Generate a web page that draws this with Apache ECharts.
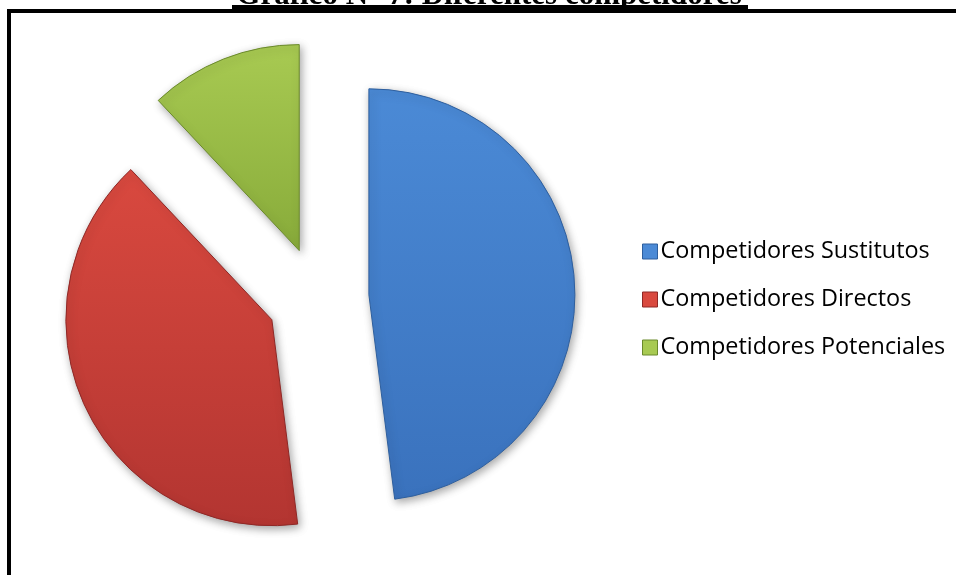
<!DOCTYPE html>
<html>
<head>
<meta charset="utf-8">
<script src="https://cdn.jsdelivr.net/npm/echarts@6/dist/echarts.min.js"></script>
<style>
  html, body { margin: 0; padding: 0; background: #ffffff; }
  #chart { width: 956px; height: 575px; }
</style>
</head>
<body>
<div id="chart"></div>
<script>
// Shares of competitor types (percent)
const categories = ['Competidores Sustitutos', 'Competidores Directos', 'Competidores Potenciales'];
const shares = [48, 40, 12];
const topColors = ['#4b8ad6', '#d9493f', '#a8ca52'];
const bottomColors = ['#3a72bd', '#b33531', '#88ab3a'];
const edgeColors = ['#2e5f9e', '#8f2826', '#6b8a2c'];
const titleText = 'Gráfico N° 7: Diferentes competidores';

const chart = echarts.init(document.getElementById('chart'), null, { renderer: 'canvas' });

const pieData = categories.map((name, i) => ({
  name: name,
  value: shares[i],
  selected: true,
  itemStyle: {
    color: {
      type: 'linear', x: 0, y: 0, x2: 0, y2: 1,
      colorStops: [
        { offset: 0, color: topColors[i] },
        { offset: 1, color: bottomColors[i] }
      ]
    },
    borderColor: edgeColors[i],
    borderWidth: 1
  }
}));

chart.setOption({
  backgroundColor: '#ffffff',
  animation: false,
  graphic: [
    // frame around the chart area
    {
      type: 'rect',
      shape: { x: 9, y: 11, width: 960, height: 580 },
      style: { fill: 'none', stroke: '#000000', lineWidth: 4 },
      z: 10
    },
    // underline of the heading
    {
      type: 'rect',
      shape: { x: 232, y: 5, width: 516, height: 4 },
      style: { fill: '#000000' },
      z: 12
    },
    {
      type: 'text',
      x: 489,
      y: 11,
      style: {
        text: titleText,
        fill: '#000000',
        font: 'bold 31px "Liberation Serif", "Times New Roman", serif',
        align: 'center',
        verticalAlign: 'bottom'
      },
      z: 11
    }
  ],
  legend: {
    orient: 'vertical',
    left: 637,
    top: 235,
    itemWidth: 15,
    itemHeight: 15,
    itemGap: 25,
    icon: 'rect',
    selectedMode: false,
    textStyle: {
      fontFamily: '"Open Sans", Lato, sans-serif',
      fontSize: 23.4,
      lineHeight: 22,
      color: '#000000',
      padding: [0, 0, 0, -2]
    },
    data: categories.map((name, i) => ({
      name: name,
      itemStyle: { color: topColors[i], borderColor: edgeColors[i], borderWidth: 1 }
    }))
  },
  series: [{
    type: 'pie',
    center: [318, 298],
    radius: 206,
    startAngle: 90,
    clockwise: true,
    selectedMode: 'multiple',
    selectedOffset: 51,
    label: { show: false },
    labelLine: { show: false },
    emphasis: { disabled: true },
    select: { itemStyle: { shadowBlur: 8, shadowColor: 'rgba(0,0,0,0.35)', shadowOffsetX: 2, shadowOffsetY: 3 } },
    itemStyle: { shadowBlur: 8, shadowColor: 'rgba(0,0,0,0.35)', shadowOffsetX: 2, shadowOffsetY: 3 },
    data: pieData
  }]
});
</script>
</body>
</html>
